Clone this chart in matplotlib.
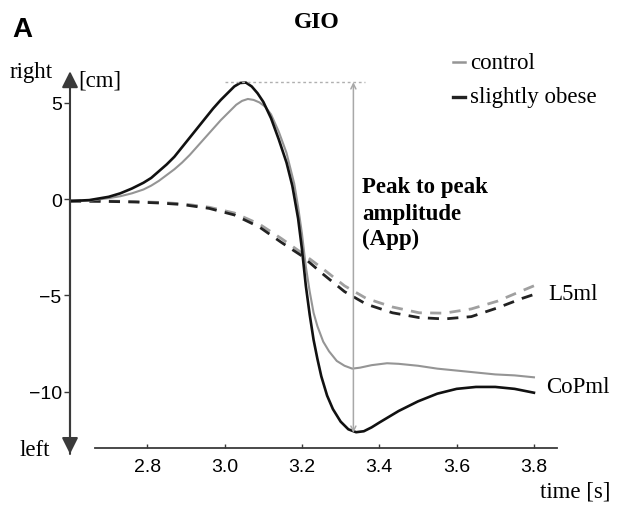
import matplotlib.pyplot as plt
from matplotlib.lines import Line2D

# CoPml, slightly obese (black solid)
t_cop_obese = [2.60, 2.65, 2.70, 2.73, 2.76, 2.79, 2.81, 2.83, 2.85, 2.87, 2.89, 2.91, 2.93,
               2.95, 2.97, 2.99, 3.01, 3.025, 3.04, 3.055, 3.07, 3.085, 3.10, 3.12, 3.14,
               3.16, 3.175, 3.19, 3.20, 3.21, 3.22, 3.23, 3.24, 3.25, 3.265, 3.28, 3.30,
               3.32, 3.34, 3.36, 3.38, 3.40, 3.45, 3.50, 3.55, 3.60, 3.65, 3.70, 3.75, 3.80]
cop_obese = [-0.1, -0.05, 0.12, 0.3, 0.55, 0.85, 1.1, 1.45, 1.8, 2.2, 2.7, 3.2, 3.7,
             4.2, 4.7, 5.15, 5.55, 5.85, 6.03, 6.05, 5.85, 5.5, 5.05, 4.2, 3.1,
             1.9, 0.7, -1.0, -2.6, -4.5, -6.0, -7.3, -8.3, -9.2, -10.2, -10.9, -11.55,
             -11.95, -12.1, -12.05, -11.85, -11.6, -11.0, -10.5, -10.1, -9.85, -9.75, -9.75, -9.85, -10.05]

# CoPml, control (grey solid)
t_cop_control = [2.60, 2.65, 2.70, 2.73, 2.76, 2.79, 2.81, 2.83, 2.85, 2.87, 2.89, 2.91, 2.93,
                 2.95, 2.97, 2.99, 3.01, 3.03, 3.045, 3.06, 3.075, 3.09, 3.105, 3.12, 3.14,
                 3.16, 3.18, 3.19, 3.20, 3.21, 3.22, 3.23, 3.24, 3.255, 3.27, 3.29, 3.31,
                 3.33, 3.35, 3.38, 3.42, 3.45, 3.50, 3.55, 3.60, 3.65, 3.70, 3.75, 3.80]
cop_control = [-0.1, -0.08, 0.05, 0.15, 0.3, 0.5, 0.7, 0.95, 1.25, 1.55, 1.9, 2.3, 2.75,
               3.2, 3.65, 4.1, 4.5, 4.9, 5.1, 5.2, 5.15, 5.02, 4.8, 4.4, 3.5,
               2.4, 0.8, -0.4, -1.8, -3.5, -4.8, -5.9, -6.6, -7.4, -7.9, -8.4, -8.65,
               -8.8, -8.75, -8.62, -8.52, -8.55, -8.65, -8.8, -8.9, -9.0, -9.1, -9.15, -9.25]

# L5ml (dashed), same time base for both groups
t_l5 = [2.60, 2.70, 2.77, 2.83, 2.89, 2.96, 3.025, 3.09, 3.147, 3.20, 3.253, 3.31,
        3.366, 3.434, 3.503, 3.568, 3.638, 3.705, 3.77, 3.80]
l5_obese = [-0.1, -0.12, -0.15, -0.2, -0.28, -0.48, -0.82, -1.45, -2.25, -2.95, -3.87, -4.8,
            -5.45, -5.9, -6.15, -6.22, -6.1, -5.65, -5.15, -4.95]
l5_control = [-0.1, -0.1, -0.13, -0.17, -0.24, -0.42, -0.72, -1.3, -2.05, -2.8, -3.6, -4.5,
              -5.15, -5.6, -5.9, -5.92, -5.7, -5.3, -4.75, -4.5]

xticks = [2.8, 3.0, 3.2, 3.4, 3.6, 3.8]
yticks = [-10, -5, 0, 5]

t_app = 3.333
app_top = 6.07
app_bottom = -12.13

W, H = 617, 506
serif = 'Liberation Serif'
sans = 'Liberation Sans'
axis_col = '#3a3a3a'
grey = '#959595'

fig = plt.figure(figsize=(W / 100, H / 100), dpi=100)
ax = fig.add_axes([70 / W, 57 / H, 491 / W, 376 / H])
ax.set_xlim(2.6, 3.87)
ax.set_ylim(-12.92, 6.6)

# dashed L5ml first so solid lines lie on top
ax.plot(t_l5, l5_control, color='#a0a0a0', lw=2.0, dashes=(4, 3))
ax.plot(t_l5, l5_obese, color='#222222', lw=2.0, dashes=(4, 3))
ax.plot(t_cop_control, cop_control, color=grey, lw=1.5)
ax.plot(t_cop_obese, cop_obese, color='#111111', lw=1.9)

# peak to peak amplitude
ax.plot([3.0, 3.363], [app_top, app_top], color='#b0b0b0', lw=1.0, ls=(0, (2, 2)))
ax.annotate('', xy=(t_app, app_top), xytext=(t_app, app_bottom),
            arrowprops=dict(arrowstyle='<->', color='#a8a8a8', lw=1.1,
                            shrinkA=0, shrinkB=0, mutation_scale=9))

# axes
for s in ['top', 'right', 'left']:
    ax.spines[s].set_visible(False)
ax.spines['bottom'].set_bounds(2.665, 3.86)
ax.spines['bottom'].set_color(axis_col)
ax.spines['bottom'].set_linewidth(1.3)
ax.annotate('', xy=(2.6, 6.64), xytext=(2.6, -13.23), annotation_clip=False,
            arrowprops=dict(arrowstyle='-|>,head_length=0.7,head_width=0.35', color=axis_col,
                            lw=1.5, shrinkA=0, shrinkB=0, mutation_scale=14))
ax.annotate('', xy=(2.6, -13.23), xytext=(2.6, 0), annotation_clip=False,
            arrowprops=dict(arrowstyle='-|>,head_length=0.7,head_width=0.35', color=axis_col,
                            lw=1.5, shrinkA=0, shrinkB=0, mutation_scale=14))

ax.set_xticks(xticks)
ax.set_xticklabels([f'{v:.1f}' for v in xticks], fontfamily=sans, fontsize=14)
ax.set_yticks(yticks)
ax.set_yticklabels(['\u221210', '\u22125', '0', '5'], fontfamily=sans, fontsize=14)
ax.tick_params(axis='x', direction='in', length=3, width=1, color=axis_col, pad=7)
ax.tick_params(axis='y', direction='out', length=4, width=1, color=axis_col, pad=2)


def ftext(px, py, s, **kw):
    fig.text(px / W, 1 - py / H, s, **kw)


ftext(12, 30, 'A', fontfamily=sans, fontweight='bold', fontsize=20, va='center')
ftext(317, 23, 'GIO', fontfamily=serif, fontweight='bold', fontsize=17, ha='center', va='center')
ftext(10, 78, 'right', fontfamily=serif, fontsize=16.5, va='baseline')
ftext(78, 86, '[cm]', fontfamily=serif, fontsize=16.5, va='baseline')
ftext(20, 456, 'left', fontfamily=serif, fontsize=16.5, va='baseline')
ftext(540, 498, 'time [s]', fontfamily=serif, fontsize=16.5, va='baseline')
ftext(548, 300, 'L5ml', fontfamily=serif, fontsize=16.5, va='baseline')
ftext(546, 393, 'CoPml', fontfamily=serif, fontsize=16.5, va='baseline')
ftext(362, 193, 'Peak to peak', fontfamily=serif, fontweight='bold', fontsize=16.5, va='baseline')
ftext(362, 220, 'amplitude', fontfamily=serif, fontweight='bold', fontsize=16.5, va='baseline')
ftext(362, 245, '(App)', fontfamily=serif, fontweight='bold', fontsize=16.5, va='baseline')

# legend
ftext(470, 69, 'control', fontfamily=serif, fontsize=16.5, va='baseline')
ftext(470, 103, 'slightly obese', fontfamily=serif, fontsize=16.5, va='baseline')
fig.add_artist(Line2D([453 / W, 465 / W], [1 - 63 / H] * 2, color=grey, lw=1.8))
fig.add_artist(Line2D([453 / W, 465 / W], [1 - 98 / H] * 2, color='#222222', lw=2.4))

fig.savefig('out.png', dpi=100)
